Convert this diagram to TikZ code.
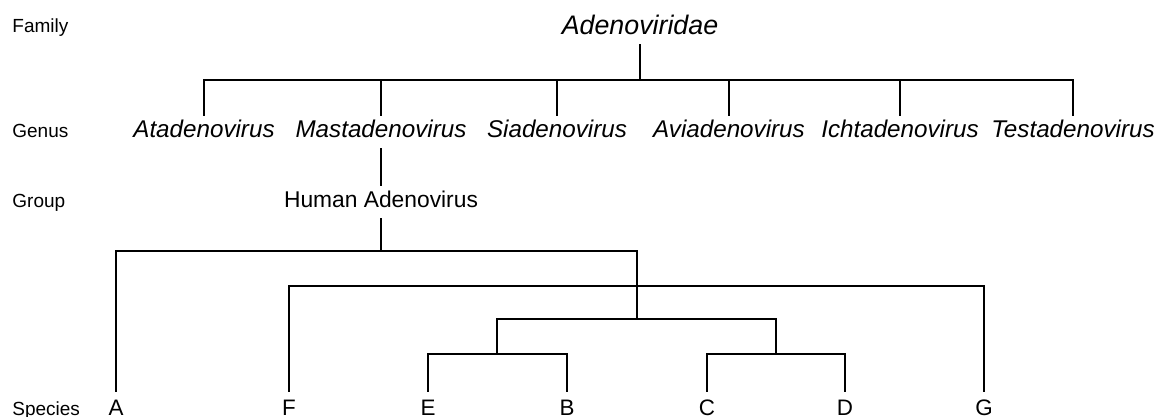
\documentclass[tikz,border=0pt]{standalone}
\usepackage{fontspec}
\setmainfont{Liberation Sans}
\usepackage{tikz}

\begin{document}
\begin{tikzpicture}[x=0.5pt, y=-0.5pt,
  rank/.style={anchor=base west, inner sep=0pt, font=\fontsize{9.5}{11}\selectfont},
  famnode/.style={anchor=base, inner ysep=2pt, text height=0.75em, text depth=0.25em, font=\fontsize{13.4}{16}\selectfont\itshape},
  genusnode/.style={anchor=base, inner ysep=3pt, text height=0.75em, text depth=0.25em, font=\fontsize{12.1}{14}\selectfont\itshape},
  groupnode/.style={anchor=base, inner ysep=3pt, text height=0.75em, text depth=0.25em, font=\fontsize{11.4}{14}\selectfont},
  spnode/.style={anchor=base, inner ysep=4pt, text height=0.75em, text depth=0pt, font=\fontsize{11.2}{14}\selectfont},
  branch/.style={black, line width=1pt}]
  \useasboundingbox (0,0) rectangle (1155,417);
  % rank labels
  \node[rank] (lfam) at (12,33) {Family};
  \node[rank] (lgen) at (12,137) {Genus};
  \node[rank] (lgrp) at (12,207) {Group};
  \node[rank] (lsp) at (12,415) {Species};
  % family and genera
  \node[famnode] (fam) at (640,35) {Adenoviridae};
  \node[genusnode] (ata) at (204,137) {Atadenovirus};
  \node[genusnode] (mas) at (381,137) {Mastadenovirus};
  \node[genusnode] (sia) at (557,137) {Siadenovirus};
  \node[genusnode] (avi) at (729,137) {Aviadenovirus};
  \node[genusnode] (ich) at (900,137) {Ichtadenovirus};
  \node[genusnode] (tes) at (1073,137) {Testadenovirus};
  \coordinate (gbar) at (640,80);
  \draw[branch] (fam.south) -- (gbar);
  \draw[branch] (ata.north) |- (gbar) -| (tes.north);
  \foreach \g in {mas,sia,avi,ich}
    \draw[branch] (\g.north) -- (\g.north |- gbar);
  % group
  \node[groupnode] (grp) at (381,207) {Human Adenovirus};
  \draw[branch] (mas.south) -- (grp.north);
  % species
  \node[spnode] (A) at (116,415) {A};
  \node[spnode] (F) at (289,415) {F};
  \node[spnode] (E) at (428,415) {E};
  \node[spnode] (B) at (567,415) {B};
  \node[spnode] (C) at (707,415) {C};
  \node[spnode] (D) at (845,415) {D};
  \node[spnode] (G) at (984,415) {G};
  \coordinate (r1) at (637,251);
  \coordinate (r2) at (637,286);
  \coordinate (r3) at (637,319);
  \coordinate (eb) at (497,354);
  \coordinate (cd) at (776,354);
  \draw[branch] (grp.south) -- (grp.south |- r1);
  \draw[branch] (A.north) |- (r1) -- (r3);
  \draw[branch] (F.north) |- (r2) -| (G.north);
  \draw[branch] (eb) |- (r3) -| (cd);
  \draw[branch] (E.north) |- (eb) -| (B.north);
  \draw[branch] (C.north) |- (cd) -| (D.north);
\end{tikzpicture}
\end{document}
